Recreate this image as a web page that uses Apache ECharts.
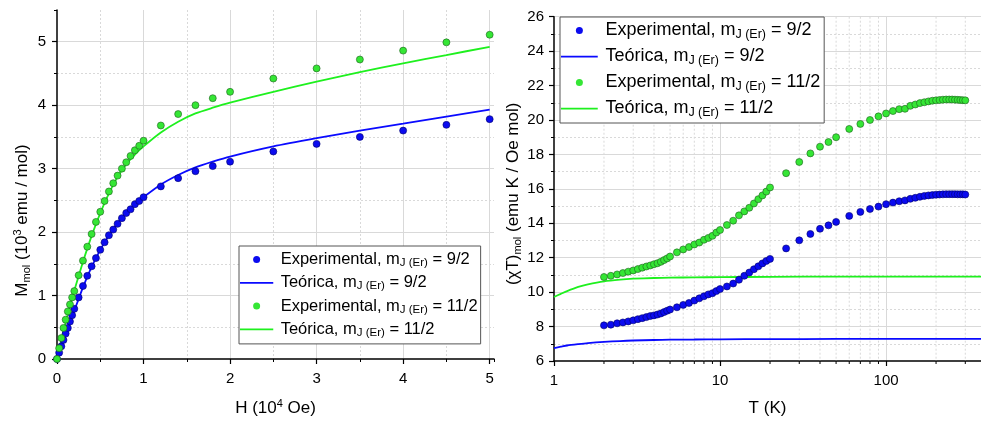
<!DOCTYPE html>
<html>
<head>
<meta charset="utf-8">
<script src="https://cdn.jsdelivr.net/npm/echarts@6/dist/echarts.min.js"></script>
<style>html,body{margin:0;padding:0;background:#fff}#c{width:981px;height:423px}</style>
</head>
<body>
<div id="c"></div>
<script>
// ---------- Left panel: magnetization vs field ----------
const hField = [0,0.025,0.05,0.075,0.1,0.125,0.15,0.175,0.2,0.25,0.3,0.35,0.4,0.45,0.5,0.55,0.6,0.65,0.7,0.75,0.8,0.85,0.9,0.95,1.0,1.2,1.4,1.6,1.8,2.0,2.5,3.0,3.5,4.0,4.5,5.0];
const mExp92 = [0,0.10,0.20,0.30,0.40,0.49,0.59,0.69,0.79,0.97,1.15,1.31,1.46,1.59,1.72,1.84,1.95,2.04,2.13,2.22,2.30,2.36,2.44,2.49,2.55,2.72,2.85,2.96,3.04,3.11,3.27,3.39,3.50,3.60,3.69,3.78];
const mExp112 = [0,0.17,0.33,0.49,0.62,0.75,0.86,0.97,1.07,1.32,1.55,1.77,1.97,2.16,2.32,2.49,2.64,2.77,2.89,3.00,3.10,3.20,3.29,3.36,3.44,3.68,3.86,4.00,4.11,4.21,4.42,4.58,4.72,4.86,4.99,5.11];
const hTheory = [0,0.05,0.1,0.15,0.2,0.3,0.4,0.5,0.6,0.7,0.8,0.9,1.0,1.2,1.4,1.6,1.8,2.0,2.5,3,3.5,4,4.5,5];
const mTheo92 = [0,0.19,0.38,0.57,0.76,1.13,1.45,1.72,1.95,2.14,2.30,2.44,2.55,2.75,2.90,3.02,3.11,3.19,3.35,3.48,3.60,3.71,3.82,3.93];
const mTheo112 = [0,0.30,0.58,0.84,1.08,1.53,1.94,2.30,2.61,2.87,3.07,3.22,3.35,3.57,3.74,3.87,3.96,4.04,4.21,4.37,4.52,4.66,4.79,4.92];
const hTicks = [0,1,2,3,4,5];
const mTicks = [0,1,2,3,4,5];

// ---------- Right panel: chiT vs T ----------
const tExp = [2.0,2.2,2.4,2.6,2.8,3.0,3.2,3.4,3.6,3.8,4.0,4.2,4.4,4.6,4.8,5.0,5.5,6,6.5,7,7.5,8,8.5,9,9.5,10,11,12,13,14,15,16,17,18,19,20,25,30,35,40,45,50,60,70,80,90,100,110,120,130,140,150,160,170,180,190,200,210,220,230,240,250,260,270,280,290,300];
const chiExp92 = [8.07,8.11,8.19,8.24,8.30,8.36,8.43,8.49,8.55,8.61,8.65,8.70,8.76,8.84,8.92,8.99,
  9.12,9.26,9.37,9.51,9.64,9.76,9.87,9.94,10.06,10.18,
  10.33,10.50,10.72,10.95,11.14,11.33,11.50,11.67,11.81,11.93,
  12.54,13.01,13.38,13.68,13.88,14.08,
  14.43,14.66,14.83,14.97,15.11,
  15.20,15.28,15.33,15.42,15.48,15.54,15.59,15.62,15.64,15.66,15.67,15.68,15.69,15.69,15.69,15.69,15.68,15.68,15.68,15.67];
const chiExp112 = [10.88,10.95,11.03,11.11,11.19,11.26,11.34,11.42,11.49,11.55,11.62,11.68,11.76,11.86,11.96,12.07,
  12.31,12.48,12.62,12.77,12.88,13.04,13.15,13.27,13.46,13.61,
  13.90,14.15,14.46,14.69,14.90,15.15,15.40,15.62,15.84,16.08,
  16.91,17.56,18.06,18.45,18.72,19.00,
  19.48,19.77,20.00,20.21,20.38,
  20.52,20.63,20.65,20.82,20.90,20.98,21.03,21.08,21.12,21.14,21.16,21.18,21.19,21.19,21.19,21.18,21.17,21.16,21.15,21.14];
const tTheory = [1,1.1,1.2,1.4,1.6,2,2.5,3,4,5,7,10,20,50,100,200,373];
const chiTheo92 = [6.75,6.83,6.90,6.98,7.04,7.11,7.16,7.19,7.22,7.24,7.25,7.26,7.27,7.28,7.28,7.28,7.28];
const chiTheo112 = [9.72,9.90,10.06,10.30,10.45,10.63,10.73,10.78,10.82,10.84,10.86,10.87,10.89,10.90,10.90,10.90,10.90];
const tTicks = [1,10,100];
const tMinorTicks = [2,3,4,5,6,7,8,9,20,30,40,50,60,70,80,90,200,300];
const chiTicks = [6,8,10,12,14,16,18,20,22,24,26];

const names = [
  'Experimental, m_J (Er) = 9/2',
  'Teórica, m_J (Er) = 9/2',
  'Experimental, m_J (Er) = 11/2',
  'Teórica, m_J (Er) = 11/2'
];

const FONT = 'Liberation Sans, Arial, sans-serif';
const BLUE = '#0b0bef', BLUE_EDGE = '#00006a', BLUE_LINE = '#0a0aff';
const GREEN = '#35e635', GREEN_EDGE = '#1d5e1d', GREEN_LINE = '#1ef01e';
const GRID_C = '#d9d9d9';
const zip = (a, b) => a.map((v, i) => [v, b[i]]);

function legendCfg(left, top, iw, fs, ss, lh, gap, pad) {
  const icon = 'path://M0,0M0,3H' + iw + 'V5H0ZM' + iw + ',8';
  return {
    orient: 'vertical', left: left, top: top,
    itemWidth: iw, itemHeight: 7, itemGap: gap,
    padding: pad,
    borderColor: '#555', borderWidth: 1, backgroundColor: '#fff',
    selectedMode: false,
    itemStyle: {borderWidth: 0},
    data: [
      {name: names[0], icon: 'circle'},
      {name: names[1], icon: icon},
      {name: names[2], icon: 'circle'},
      {name: names[3], icon: icon}
    ],
    formatter: n => n.replace('m_J (Er)', 'm{s|J (Er)}'),
    textStyle: {
      fontFamily: FONT, fontSize: fs, color: '#000', lineHeight: lh,
      rich: { s: {fontFamily: FONT, fontSize: ss, lineHeight: ss, padding: [lh - ss - 1, 0, 0, 0], color: '#000'} }
    }
  };
}

const richName = {
  s: {fontFamily: FONT, fontSize: 11, lineHeight: 11, padding: [9, 0, 0, 0], color: '#000'},
  p: {fontFamily: FONT, fontSize: 11, lineHeight: 11, padding: [0, 0, 9, 0], color: '#000'}
};
const labelStyle = {fontFamily: FONT, fontSize: 15, color: '#000'};
const axisLine = {show: true, onZero: false, lineStyle: {color: '#000', width: 1.5}};

const minorAxisBase = {
  axisLine: {show: false}, axisLabel: {show: false},
  axisTick: {show: true, inside: false, length: 3, lineStyle: {color: '#000', width: 1}},
  splitLine: {show: true, showMaxLine: false, showMinLine: false, lineStyle: {color: GRID_C, type: [2, 2], width: 1}}
};
const majorSplit = {show: true, showMaxLine: false, showMinLine: false, lineStyle: {color: GRID_C, width: 1}};
const majorTick = {show: true, inside: false, length: 5, lineStyle: {color: '#000', width: 1.2}};
const smoothOpt = {smooth: 0.25};

const option = {
  animation: false,
  backgroundColor: '#fff',
  textStyle: {fontFamily: FONT},
  grid: [
    {left: 57, right: 487, top: 10, bottom: 62},
    {left: 554, right: 0, top: 16.7, bottom: 58.7}
  ],
  legend: [
    legendCfg(239, 246, 38, 16.5, 11.5, 19, 4.3, [4, 3, 5, 1]),
    legendCfg(560, 17, 42, 18, 12.5, 21, 5, [3, 4, 4, 1])
  ],
  xAxis: [
    Object.assign({gridIndex: 0, type: 'value', position: 'bottom', min: 0, max: 5.05, interval: 0.5}, minorAxisBase),
    {gridIndex: 0, type: 'value', position: 'bottom', min: 0, max: 5.05, interval: 1,
      axisLine: axisLine, axisTick: majorTick, splitLine: majorSplit,
      axisLabel: Object.assign({margin: 12, showMaxLabel: false, formatter: v => hTicks.includes(v) ? String(v) : ''}, labelStyle),
      name: 'H (10{p|4} Oe)', nameLocation: 'middle', nameGap: 39,
      nameTextStyle: {fontFamily: FONT, fontSize: 17, color: '#000', lineHeight: 20, rich: richName}},
    {gridIndex: 1, type: 'log', position: 'bottom', logBase: 10, min: 1, max: 373,
      axisLine: axisLine, axisTick: majorTick, splitLine: majorSplit,
      axisLabel: Object.assign({margin: 12, showMaxLabel: false, formatter: v => tTicks.includes(v) ? String(v) : ''}, labelStyle),
      name: 'T (K)', nameLocation: 'middle', nameGap: 37,
      nameTextStyle: {fontFamily: FONT, fontSize: 17, color: '#000', lineHeight: 20}}
  ],
  yAxis: [
    Object.assign({gridIndex: 0, type: 'value', position: 'left', min: 0, max: 5.5, interval: 0.5}, minorAxisBase),
    {gridIndex: 0, type: 'value', position: 'left', min: 0, max: 5.5, interval: 1,
      axisLine: axisLine, axisTick: majorTick, splitLine: majorSplit,
      axisLabel: Object.assign({margin: 11, showMaxLabel: false, formatter: v => mTicks.includes(v) ? String(v) : ''}, labelStyle),
      name: 'M{s|mol} (10{p|3} emu / mol)', nameLocation: 'middle', nameGap: 25,
      nameTextStyle: {fontFamily: FONT, fontSize: 17, color: '#000', lineHeight: 20, rich: richName, padding: [0, 72, 0, 0]}},
    {gridIndex: 1, type: 'value', position: 'left', min: 6, max: 26, interval: 2,
      axisLine: axisLine, axisTick: majorTick,
      splitLine: {show: true, showMinLine: false, lineStyle: {color: GRID_C, width: 1}},
      minorTick: {show: true, splitNumber: 2, length: 3, lineStyle: {color: '#000', width: 1}},
      minorSplitLine: {show: true, lineStyle: {color: GRID_C, type: [2, 2], width: 1}},
      axisLabel: Object.assign({margin: 10, formatter: v => chiTicks.includes(v) ? String(v) : ''}, labelStyle),
      name: '(χT){s|mol} (emu K / Oe mol)', nameLocation: 'middle', nameGap: 31,
      nameTextStyle: {fontFamily: FONT, fontSize: 17, color: '#000', lineHeight: 20, rich: richName, padding: [0, 10, 0, 0]}}
  ],
  series: [
    // minor log grid / ticks on the right panel
    {type: 'custom', xAxisIndex: 2, yAxisIndex: 2, z: 1, silent: true,
      data: tMinorTicks.map(t => [t, 6]),
      renderItem: (params, api) => {
        const t = api.value(0);
        const b = api.coord([t, 6]);
        const tp = api.coord([t, 26]);
        return {type: 'group', children: [
          {type: 'line', shape: {x1: b[0], y1: tp[1], x2: b[0], y2: b[1]}, style: {stroke: GRID_C, lineWidth: 1, lineDash: [2, 2]}},
          {type: 'line', shape: {x1: b[0], y1: b[1], x2: b[0], y2: b[1] + 3}, style: {stroke: '#000', lineWidth: 1}}
        ]};
      }},
    // left panel
    Object.assign({name: names[1], type: 'line', xAxisIndex: 1, yAxisIndex: 1, data: zip(hTheory, mTheo92),
      showSymbol: false, symbol: 'none', z: 3,
      lineStyle: {color: BLUE_LINE, width: 1.8}, itemStyle: {color: BLUE_LINE}}, smoothOpt),
    Object.assign({name: names[3], type: 'line', xAxisIndex: 1, yAxisIndex: 1, data: zip(hTheory, mTheo112),
      showSymbol: false, symbol: 'none', z: 3,
      lineStyle: {color: GREEN_LINE, width: 1.8}, itemStyle: {color: GREEN_LINE}}, smoothOpt),
    {name: names[0], type: 'scatter', xAxisIndex: 1, yAxisIndex: 1, data: zip(hField, mExp92),
      symbol: 'circle', symbolSize: 7, z: 4,
      itemStyle: {color: BLUE, borderColor: BLUE_EDGE, borderWidth: 0.6, opacity: 1}},
    {name: names[2], type: 'scatter', xAxisIndex: 1, yAxisIndex: 1, data: zip(hField, mExp112),
      symbol: 'circle', symbolSize: 7, z: 4,
      itemStyle: {color: GREEN, borderColor: GREEN_EDGE, borderWidth: 0.6, opacity: 1}},
    // right panel
    Object.assign({name: names[1], type: 'line', xAxisIndex: 2, yAxisIndex: 2, data: zip(tTheory, chiTheo92),
      showSymbol: false, symbol: 'none', z: 3,
      lineStyle: {color: BLUE_LINE, width: 1.8}, itemStyle: {color: BLUE_LINE}}, smoothOpt),
    Object.assign({name: names[3], type: 'line', xAxisIndex: 2, yAxisIndex: 2, data: zip(tTheory, chiTheo112),
      showSymbol: false, symbol: 'none', z: 3,
      lineStyle: {color: GREEN_LINE, width: 1.8}, itemStyle: {color: GREEN_LINE}}, smoothOpt),
    {name: names[0], type: 'scatter', xAxisIndex: 2, yAxisIndex: 2, data: zip(tExp, chiExp92),
      symbol: 'circle', symbolSize: 7, z: 4,
      itemStyle: {color: BLUE, borderColor: BLUE_EDGE, borderWidth: 0.6, opacity: 1}},
    {name: names[2], type: 'scatter', xAxisIndex: 2, yAxisIndex: 2, data: zip(tExp, chiExp112),
      symbol: 'circle', symbolSize: 7, z: 4,
      itemStyle: {color: GREEN, borderColor: GREEN_EDGE, borderWidth: 0.6, opacity: 1}}
  ]
};

const chart = echarts.init(document.getElementById('c'), null, {renderer: 'canvas'});
chart.setOption(option);
</script>
</body>
</html>
